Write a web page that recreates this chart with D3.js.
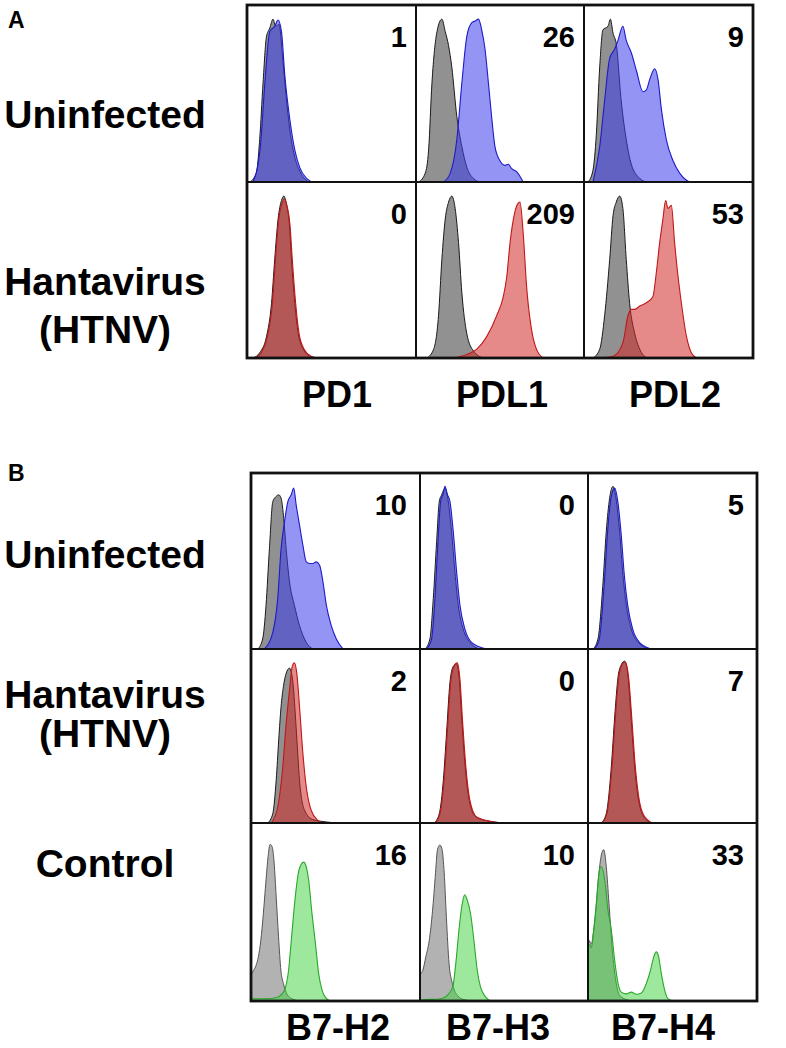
<!DOCTYPE html>
<html><head><meta charset="utf-8">
<script src="https://cdn.jsdelivr.net/npm/d3@7/dist/d3.min.js"></script>
<style>
body{margin:0;background:#fff}
svg{display:block}
text{font-family:"Liberation Sans",Arial,Helvetica,sans-serif;font-weight:bold;fill:#000}
</style>
</head><body>
<svg id="c" width="786" height="1048"></svg>
<script>
// ---------- DATA (x: % of panel width, y: % of panel height) ----------
const markersA = ["PD1", "PDL1", "PDL2"];
const markersB = ["B7-H2", "B7-H3", "B7-H4"];
const rowLabelsA = [["Uninfected"], ["Hantavirus", "(HTNV)"]];
const rowLabelsB = [["Uninfected"], ["Hantavirus", "(HTNV)"], ["Control"]];
const mfiA = [[1, 26, 9], [0, 209, 53]];
const mfiB = [[10, 0, 5], [2, 0, 7], [16, 10, 33]];
const rowTypesA = ["blue", "red"];
const rowTypesB = ["blue", "red", "green"];

// Panel A, Uninfected
const pd1U_iso = [[1.6,0],[5.5,5],[7.5,24],[9.5,56],[11.5,82],[13.5,87],[15.4,92],[17,88],[19,89],[21,71],[23.4,46],[25.7,27],[28.3,14],[31.3,6],[35,1],[37,0]];
const pd1U_stain = [[3.6,0],[7.9,20],[10.5,55],[13.5,85],[16.4,88],[18.4,91.5],[20.4,85],[22.4,60],[25.4,35],[28.3,18],[31.3,8],[35.3,2],[38.2,0]];
const pdl1U_iso = [[1.6,0],[5.5,5],[7.5,18],[9.5,56],[12.5,85],[15.4,92],[17.4,85],[19.4,77],[21.3,65],[24.3,37],[27.3,20],[30.2,8.5],[34.2,2],[38.1,0]];
const pdl1U_stain = [[16.4,0],[20.4,5],[24.3,24],[27.3,56],[30.2,82],[33.2,90],[35.2,91],[37.2,92],[39.1,86],[41.1,75],[43.1,56],[45,37],[47,20],[50,12],[53,9.4],[55,10],[57,7.5],[60,5.7],[63.8,0]];
const pdl2U_iso = [[2.4,0],[5.3,6.6],[7.3,27],[9.3,65],[11.2,86],[14.2,88],[15.6,92],[17.2,84],[19.1,78],[22,46],[25,24],[28,10],[33,2],[37,0]];
const pdl2U_stain = [[5.3,0],[9.3,20],[12.2,46],[15.2,70],[18.1,75],[20.1,80],[23,88],[25,80],[28,73],[31,63],[34.9,51],[36.9,52],[38.9,58],[41.8,64],[43.8,58],[45.8,41],[48.7,24],[52.7,12],[56.6,5],[60.6,1],[62.5,0]];
// Panel A, Hantavirus
const pd1H_iso = [[3.6,0],[7.5,3],[11.5,12],[14.5,31],[16.4,56],[18.4,79],[20.4,89.5],[21.8,92],[23.4,87],[25,77],[26.3,56],[28.3,31],[30.3,14],[33.3,5],[37.2,1],[41.2,0]];
const pd1H_stain = [[5,0],[8.5,3],[12,12],[15,31],[16.8,56],[18.8,79],[20.8,88],[22.2,90.5],[23.8,86],[25.4,76],[26.8,56],[28.8,31],[30.8,14],[33.8,5],[38,1],[42,0]];
const pdl1H_iso = [[6.5,0],[10.5,5],[13.4,24],[15.4,56],[17.4,79],[19.4,88.6],[21.3,92],[23.3,85],[25.3,65.7],[27.3,37],[30.2,14],[34.2,4],[40,0]];
const pdl1H_stain = [[22.3,0],[30.2,2],[36.2,5],[42,12],[48,24],[52,35],[54,46],[56,65.7],[58,79],[60,86.7],[61.9,88.6],[63.8,71],[65.8,41],[68.8,16],[71.7,5],[75.7,0]];
const pdl2H_iso = [[5.3,0],[9.3,5],[12.2,24],[15.2,56],[17.2,81],[19.1,88.6],[21.1,92],[23,85],[25,56],[27,31],[30,14],[33,5],[37,0]];
const pdl2H_stain = [[9.3,0],[17.2,1],[23,8.6],[26,24],[28,27.6],[30,27.6],[33,29.5],[36.9,31.4],[40.8,35],[42.8,48.6],[44.8,65.7],[46.7,79],[48.3,89.5],[49.7,85],[51.7,86.7],[53.6,65.7],[55.6,46.7],[57.6,31.4],[60.6,12.4],[63.5,3],[66.5,0]];
// Panel B, Uninfected
const h2U_iso = [[4,0],[6.9,5.7],[8.9,24.8],[10.9,57],[12.9,83.8],[14.9,86.7],[16.4,87.6],[17.8,85.7],[19.2,76],[20.8,57],[22.8,38],[25.7,24.8],[28.7,13.3],[32.7,3.8],[36.6,0]];
const h2U_stain = [[7.9,0],[12.9,9.5],[15.8,28.6],[17.8,57],[19.8,72],[21.8,83.8],[23.8,87.6],[25.3,91.4],[26.7,82],[28.7,70.5],[30.7,59],[32.7,49.5],[34.7,48.6],[36.6,48.6],[38.6,49.5],[40.6,47.6],[42.6,38],[44.6,24.8],[47.5,13.3],[50.5,5.7],[54.5,0]];
const h3U_iso = [[3,0],[5.9,5.7],[7.9,28.6],[9.9,61],[11.5,84],[12.9,87.6],[14.9,91.4],[16.8,84],[18.8,66.7],[20.8,43.8],[22.8,24.8],[25.7,11.4],[29.7,3.8],[35.6,0]];
const h3U_stain = [[4,0],[6.9,5.7],[8.9,28.6],[10.7,61],[12.3,84],[13.7,88],[14.9,92.5],[16.2,88],[17.8,84],[19.8,66.7],[21.8,43.8],[23.8,24.8],[26.7,11.4],[30.7,3.8],[39.6,0]];
const h4U_iso = [[3,0],[5.9,5.7],[8.9,38],[10.8,66.7],[12.8,85.7],[14.8,92.4],[16.8,84],[18.7,66.7],[20.7,41.9],[22.7,24.8],[25.6,11.4],[29.6,3.8],[36.5,0]];
const h4U_stain = [[3.8,0],[6.7,5.7],[9.7,38],[11.6,66.7],[13.6,85.7],[15.8,91.4],[17.6,84],[19.5,66.7],[21.5,41.9],[23.5,24.8],[26.4,11.4],[30.4,3.8],[37.5,0]];
// Panel B, Hantavirus
const h2H_iso = [[9.9,0],[12.9,5.4],[14.9,24.6],[16.4,47.7],[17.8,67],[19.2,78.5],[20.8,86],[22.8,89],[24.8,80.8],[26.7,55],[28.7,24.6],[31.7,7.3],[36.6,2],[44.6,0.6],[50,0]];
const h2H_stain = [[11.9,0],[15.8,9.2],[18.8,32.3],[20.8,57],[22.8,76.5],[24.4,90],[25.7,92],[27.1,86],[28.7,67],[30.7,40],[32.7,20.8],[35.6,7.3],[39.6,1.5],[42.6,0]];
const h3H_iso = [[8.5,0],[11.5,5.4],[13.9,24.6],[15.8,51.5],[17.8,80.4],[19.8,90],[21.8,91.5],[23.4,82.3],[24.9,59],[26.9,32.3],[29.3,13],[33.3,3.5],[41.6,1],[51.5,0]];
const h3H_stain = [[8.9,0],[11.9,5.4],[14.3,24.6],[16.2,51.5],[18.2,80.4],[20.2,90],[22.2,92],[23.8,82.3],[25.3,59],[27.3,32.3],[29.7,13],[33.7,3.5],[41.6,1],[48,0]];
const h4H_iso = [[7.9,0],[10.8,5.4],[13.8,32.3],[15.8,61],[17.8,84],[19.7,91],[21.7,93],[23.7,84],[25.6,59],[27.6,32.3],[29.6,15],[32.5,4.4],[37.5,0]];
const h4H_stain = [[8.3,0],[11.2,5.4],[14.2,32.3],[16.2,61],[18.2,84],[20.1,91],[22,92.5],[24,84],[26,59],[28,32.3],[30,15],[33,4.4],[38,0]];
// Panel B, Control
const h2C_iso = [[0,0],[0.3,15],[1.4,17],[3,20],[4.4,25],[5.8,34],[7.3,49],[8.9,68],[10.1,81],[11.3,88],[12.5,86.7],[13.7,77.5],[14.9,58.5],[16.3,36],[17.7,17],[19.2,9.8],[21.2,4],[24.2,1.3],[29.2,0]];
const h2C_stain = [[0,0],[0.4,1.3],[9.3,1.3],[15.3,2],[18.3,4],[20.2,7],[22.2,17],[24.2,38],[26.2,58.5],[28.2,73],[29.8,77],[31.2,78],[32.5,76],[34.1,68],[36.1,49],[38.1,32.5],[40.1,15],[42.1,6],[44,2],[47,0]];
const h3C_iso = [[0,0],[0.3,15],[1.6,17],[3.5,25],[5.5,34],[7.5,51],[9.1,70],[10.4,85],[11.8,87.6],[13,85.7],[14.4,72],[15.7,47],[17.3,21],[19.3,9.8],[22.2,3.2],[26.2,0.75],[32.1,0]];
const h3C_stain = [[0,0],[0.3,0.5],[12.4,1.3],[16.3,3.2],[19.5,7.9],[21.3,21],[23.2,40],[25.2,55],[26.6,59.7],[28.1,56.8],[30.1,49],[32.1,34],[34.1,17],[36,7.9],[39,2.3],[41.9,0]];
const h4C_iso = [[0,0],[0.2,30],[0.6,34],[2,32],[3.4,40],[4.9,53],[6.5,72],[7.9,82],[9.3,85],[10.8,75.6],[12.4,55],[14.4,28.5],[16.4,11.6],[18.7,3.2],[22.7,0.8],[26.6,0]];
const h4C_stain = [[0,0],[0.2,30],[0.6,32],[2,30],[3.4,40],[4.9,55],[6.5,72],[7.9,75.6],[9.9,68],[11.8,51],[13.8,40],[15.8,22.7],[17.8,9.8],[19.7,5],[22.7,4],[25.6,5],[28.6,3.8],[31.6,4.5],[34.5,9.8],[36.9,17],[38.9,24.8],[40.4,27.6],[41.8,24.8],[43.4,15.4],[45.4,6],[47.3,1.3],[50.3,0]];

// grids built from the arrays
const curvesA = [
  [[pd1U_iso, pd1U_stain], [pdl1U_iso, pdl1U_stain], [pdl2U_iso, pdl2U_stain]],
  [[pd1H_iso, pd1H_stain], [pdl1H_iso, pdl1H_stain], [pdl2H_iso, pdl2H_stain]]
];
const curvesB = [
  [[h2U_iso, h2U_stain], [h3U_iso, h3U_stain], [h4U_iso, h4U_stain]],
  [[h2H_iso, h2H_stain], [h3H_iso, h3H_stain], [h4H_iso, h4H_stain]],
  [[h2C_iso, h2C_stain], [h3C_iso, h3C_stain], [h4C_iso, h4C_stain]]
];

// ---------- STYLE / LAYOUT ----------
const styles = {
  blue:  {fill: "rgb(60,60,235)", op: 0.55, stroke: "#1c1cc8", iso: "rgb(145,145,145)"},
  red:   {fill: "rgb(210,40,40)", op: 0.55, stroke: "#c01818", iso: "rgb(145,145,145)"},
  green: {fill: "rgb(60,210,60)", op: 0.5,  stroke: "#2aa82a", iso: "rgb(178,178,178)"}
};

const layout = {
  A: {xs: [247, 416, 584, 753], ys: [5, 182, 358], inset: 9,
      letter: [8, 28], labelY: [[128], [295, 343]],
      colX: [337, 502, 675], colY: 407},
  B: {xs: [251, 420, 588, 757], ys: [473, 649, 823, 1001], inset: 13,
      letter: [8, 481], labelY: [[568], [708, 747], [877]],
      colX: [338, 498, 663], colY: 1040}
};

const svg = d3.select("#c");
let clipId = 0;

function drawFigure(key, letter, markers, rowLabels, mfi, rowTypes, curves) {
  const L = layout[key];
  const g = svg.append("g");
  g.append("text").attr("x", L.letter[0]).attr("y", L.letter[1])
    .attr("font-size", 23).text(letter);

  rowLabels.forEach((lines, r) => {
    lines.forEach((t, i) => {
      g.append("text").attr("x", 105).attr("y", L.labelY[r][i])
        .attr("text-anchor", "middle").attr("font-size", 39).text(t);
    });
  });

  markers.forEach((m, c) => {
    g.append("text").attr("x", L.colX[c]).attr("y", L.colY)
      .attr("text-anchor", "middle").attr("font-size", 36).text(m);
  });

  rowTypes.forEach((type, r) => {
    const st = styles[type];
    markers.forEach((m, c) => {
      const x0 = L.xs[c], x1 = L.xs[c + 1], y0 = L.ys[r], y1 = L.ys[r + 1];
      const x = d3.scaleLinear().domain([0, 100]).range([x0, x1]);
      const y = d3.scaleLinear().domain([0, 100]).range([y1, y0]);
      const id = "clip" + (clipId++);
      g.append("clipPath").attr("id", id).append("rect")
        .attr("x", x0).attr("y", y0).attr("width", x1 - x0).attr("height", y1 - y0);
      const pg = g.append("g").attr("clip-path", `url(#${id})`);
      const area = d3.area().x(d => x(d[0])).y0(y(0)).y1(d => y(d[1])).curve(d3.curveMonotoneX);
      const line = d3.line().x(d => x(d[0])).y(d => y(d[1])).curve(d3.curveMonotoneX);
      const [iso, stain] = curves[r][c];
      pg.append("path").datum(iso).attr("d", area).attr("fill", st.iso);
      pg.append("path").datum(iso).attr("d", line).attr("fill", "none")
        .attr("stroke", type === "green" ? "#555" : "#1a1a1a").attr("stroke-width", 1);
      pg.append("path").datum(stain).attr("d", area).attr("fill", st.fill).attr("fill-opacity", st.op);
      pg.append("path").datum(stain).attr("d", line).attr("fill", "none")
        .attr("stroke", st.stroke).attr("stroke-width", 1.1);

      g.append("text").attr("x", x1 - L.inset).attr("y", y0 + 42)
        .attr("text-anchor", "end").attr("font-size", 29).text(mfi[r][c]);

      g.append("rect").attr("x", x0).attr("y", y0)
        .attr("width", x1 - x0).attr("height", y1 - y0)
        .attr("fill", "none").attr("stroke", "#111").attr("stroke-width", 2);
    });
  });
  g.append("rect").attr("x", L.xs[0]).attr("y", L.ys[0])
    .attr("width", L.xs[3] - L.xs[0]).attr("height", L.ys[L.ys.length - 1] - L.ys[0])
    .attr("fill", "none").attr("stroke", "#111").attr("stroke-width", 2.8);
}

drawFigure("A", "A", markersA, rowLabelsA, mfiA, rowTypesA, curvesA);
drawFigure("B", "B", markersB, rowLabelsB, mfiB, rowTypesB, curvesB);
</script>
</body></html>
